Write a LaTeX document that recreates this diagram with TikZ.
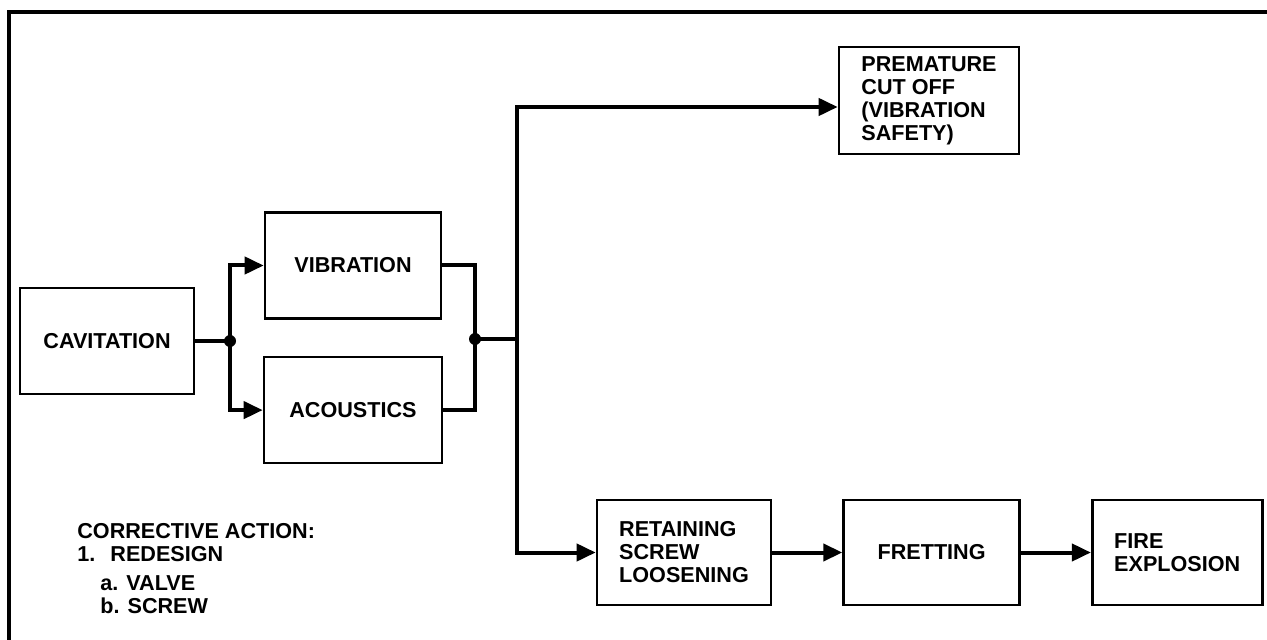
\documentclass[tikz,border=0pt]{standalone}
\usepackage{fontspec}
\setmainfont{Liberation Sans}
\usetikzlibrary{arrows.meta,positioning,calc}

\begin{document}
\begin{tikzpicture}[
  x=0.5pt, y=-0.5pt,
  box/.style={draw, line width=1.3pt, minimum width=88pt, minimum height=53pt, align=left, inner sep=2pt, font=\fontsize{10.8}{11.5}\selectfont\bfseries},
  note/.style={align=left, inner sep=0pt, font=\fontsize{10.8}{11.5}\selectfont\bfseries},
  wire/.style={line width=2pt},
  flow/.style={wire, -{Triangle[length=9.5pt,width=8.5pt]}},
  joint/.style={circle, fill, inner sep=0pt, minimum size=6pt},
]
\useasboundingbox (0,0) rectangle (1267,640);
\draw[line width=2.2pt] (1267,12) -- (9,12) -- (9,640);

\node[box, minimum width=87pt] (cav) at (107,341) {CAVITATION};
\node[box] (vib) at (353,265.5) {VIBRATION};
\node[box, minimum width=89pt, below=18pt of vib] (aco) {ACOUSTICS};
\node[box, minimum width=90pt, minimum height=53.5pt] (pre) at (929,100.5) {PREMATURE\\CUT OFF\\(VIBRATION\\SAFETY)};
\node[box, minimum width=87pt, minimum height=52.5pt] (ret) at (684,552.5) {RETAINING\\SCREW\\LOOSENING};
\node[box, minimum height=52.5pt, right=35pt of ret] (fre) {FRETTING};
\node[box, minimum width=85pt, minimum height=52.5pt, right=35pt of fre] (fire) {FIRE\\EXPLOSION};

\node[note, anchor=north west] (fix) at (77,523) {CORRECTIVE ACTION:\\
1.\hspace{7.5pt}REDESIGN\\[3pt]
\hspace*{11.5pt}a. VALVE\\
\hspace*{11.5pt}b. SCREW};

\coordinate (split) at (230,341);
\coordinate (merge) at (475,339);
\coordinate (trunk) at (517,339);

\draw[wire] (cav) -- (split);
\draw[flow] (split) |- (vib);
\draw[flow] (split) |- (aco);
\draw[wire] (vib.east) -| (merge) |- (aco.east);
\draw[wire] (merge) -- (trunk);
\draw[flow] (trunk) |- ([yshift=-3.25pt]pre.west);
\draw[flow] (trunk) |- (ret);
\draw[flow] (ret) -- (fre);
\draw[flow] (fre) -- (fire);

\node[joint] at (split) {};
\node[joint] at (merge) {};
\end{tikzpicture}
\end{document}
